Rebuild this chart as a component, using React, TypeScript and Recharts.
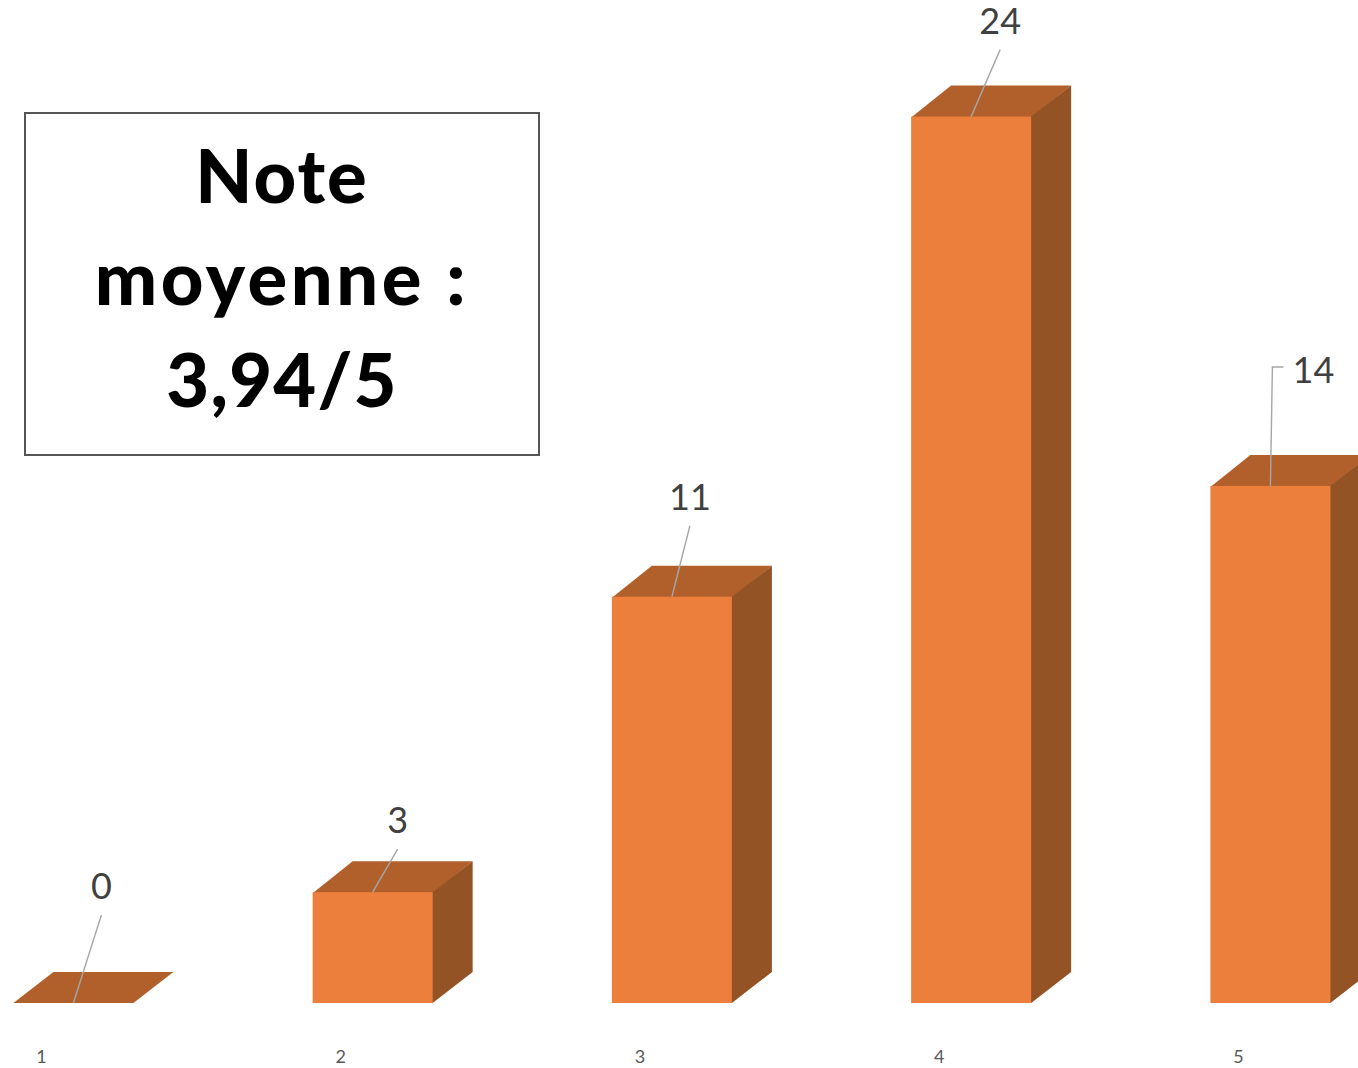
import React from "react";
import { BarChart, Bar, XAxis, YAxis, LabelList } from "recharts";

const categories = ["1", "2", "3", "4", "5"];
const counts = [0, 3, 11, 24, 14];
const noteLines = ["Note", "moyenne :", "3,94/5"];

const chartData = categories.map((note, i) => ({ note, count: counts[i] }));

const DEPTH_X = 40;
const DEPTH_Y = 31;
const FRONT = "#ED7F3C";
const TOP = "#B2602B";
const SIDE = "#945324";
const FONT = "Lato, 'Open Sans', sans-serif";

// Manual label placement, relative to the centre of each bar's top edge.
const labelOffsets = [
  { dx: 28, dy: -118 },
  { dx: 25, dy: -73 },
  { dx: 18, dy: -101 },
  { dx: 29, dy: -97 },
  { dx: 43, dy: -117 },
];
const noteLetterSpacing = [2, 3.6, 1.2];

const Box3D = (props: any) => {
  const { x, y, width, height } = props;
  const r = x + width;
  const b = y + height;
  const hasBody = height > 0;
  return (
    <g>
      <polygon
        points={`${x},${y + (hasBody ? 1 : 0)} ${x + DEPTH_X},${y - DEPTH_Y} ${r + DEPTH_X},${y - DEPTH_Y} ${r},${y + (hasBody ? 1 : 0)}`}
        fill={TOP}
      />
      {hasBody && (
        <>
          <polygon points={`${r - 1},${y} ${r},${y} ${r + DEPTH_X},${y - DEPTH_Y} ${r + DEPTH_X},${b - DEPTH_Y} ${r},${b} ${r - 1},${b}`} fill={SIDE} />
          <rect x={x} y={y} width={width} height={height} fill={FRONT} />
        </>
      )}
    </g>
  );
};

const LeaderLabel = (props: any) => {
  const { x, y, width, value, index } = props;
  const cx = x + width / 2;
  const { dx, dy } = labelOffsets[index];
  const isSideLabel = dx > 40;
  const path = isSideLabel
    ? `M${cx},${y} L${cx + 2},${y + dy - 2} L${cx + 13},${y + dy - 2}`
    : `M${cx},${y} L${cx + dx},${y + dy + 30}`;
  return (
    <g>
      <path d={path} fill="none" stroke="#A6A6A6" strokeWidth={1.4} />
      <text
        x={cx + dx}
        y={y + dy}
        textAnchor="middle"
        dominantBaseline="central"
        fontFamily={FONT}
        fontSize={36}
        fill="#404040"
      >
        {value}
      </text>
    </g>
  );
};

const Tick = (props: any) => {
  const { x, y, payload } = props;
  return (
    <text x={x - 31.5} y={y + 45} textAnchor="middle" dominantBaseline="central" fontFamily={FONT} fontSize={18} fill="#595959">
      {payload.value}
    </text>
  );
};

export default function App() {
  return (
    <div style={{ position: "absolute", left: 0, top: 0, width: 1358, height: 1068, overflow: "hidden", background: "#fff" }}>
      <BarChart
        width={1358}
        height={1068}
        data={chartData}
        barSize={120}
        margin={{ top: 116.6, right: -61.65, bottom: 0, left: -76.6 }}
      >
        <XAxis dataKey="note" axisLine={false} tickLine={false} height={65} tick={<Tick />} interval={0} />
        <YAxis hide domain={[0, 24]} />
        <Bar dataKey="count" isAnimationActive={false} shape={<Box3D />} minPointSize={0}>
          <LabelList dataKey="count" content={<LeaderLabel />} />
        </Bar>
      </BarChart>
      <div
        style={{
          position: "absolute",
          left: 24,
          top: 112,
          width: 516,
          height: 344,
          boxSizing: "border-box",
          border: "2px solid #555",
          textAlign: "center",
          fontFamily: FONT,
          fontWeight: 900,
          fontSize: 74,
          lineHeight: "102px",
          color: "#000",
          paddingTop: 10,
        }}
      >
        {noteLines.map((line, i) => (
          <div key={line} style={{ letterSpacing: noteLetterSpacing[i] }}>
            {line}
          </div>
        ))}
      </div>
    </div>
  );
}
